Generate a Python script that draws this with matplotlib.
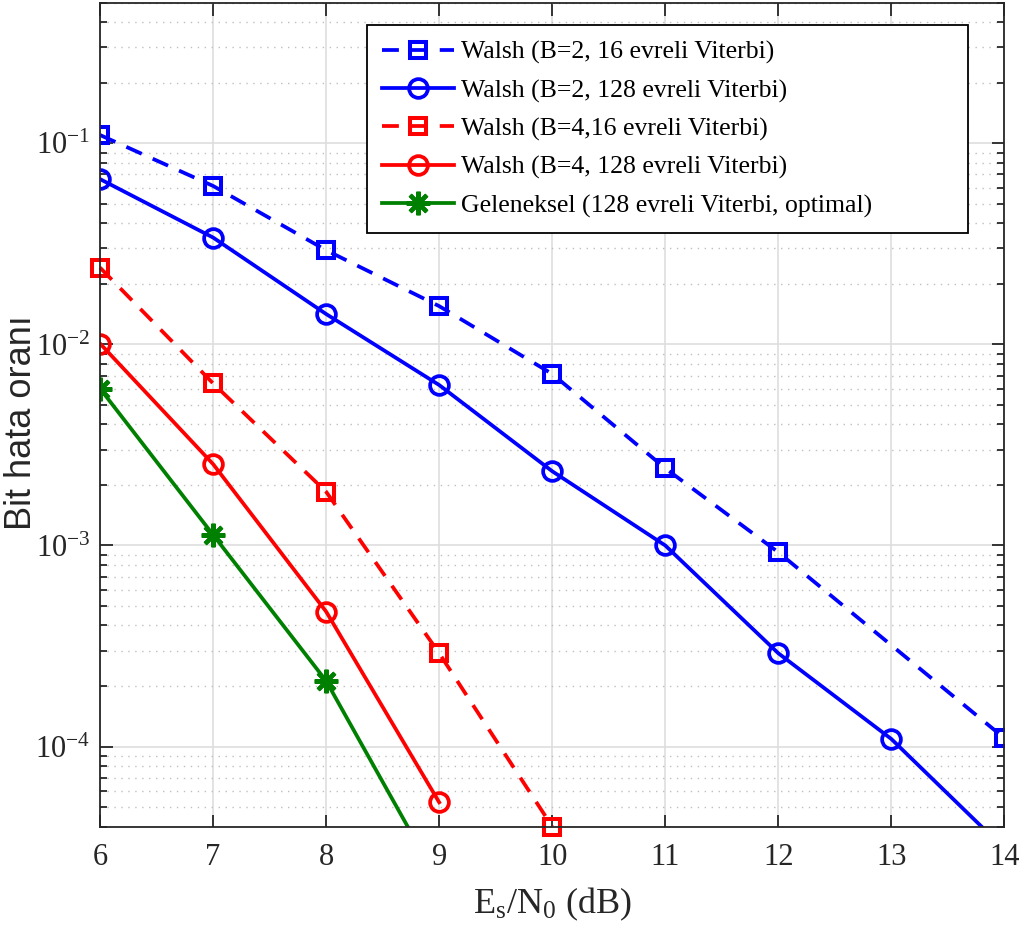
import numpy as np
import matplotlib
matplotlib.use("Agg")
import matplotlib.pyplot as plt
from matplotlib.ticker import LogLocator, LogFormatterMathtext, NullFormatter

plt.rcParams['font.family'] = ['Liberation Serif', 'DejaVu Serif']
plt.rcParams['mathtext.fontset'] = 'custom'
plt.rcParams['mathtext.rm'] = 'Liberation Serif'
plt.rcParams['mathtext.it'] = 'Liberation Serif:italic'

# Es/N0 (dB) and bit error rates
snr_b2_16 = [6, 7, 8, 9, 10, 11, 12, 14]
ber_b2_16 = [0.110, 0.0614, 0.0294, 0.0155, 0.00713, 0.00242, 0.000925, 0.000110]

snr_b2_128 = [6, 7, 8, 9, 10, 11, 12, 13, 14]
ber_b2_128 = [0.0664, 0.0340, 0.01416, 0.00628, 0.00234, 0.00100, 0.000291, 0.000109, 3.1e-5]

snr_b4_16 = [6, 7, 8, 9, 10]
ber_b4_16 = [0.0241, 0.00640, 0.00185, 0.000291, 4.0e-5]

snr_b4_128 = [6, 7, 8, 9]
ber_b4_128 = [0.0101, 0.00254, 0.000469, 5.28e-5]

snr_conv = [6, 7, 8, 9]
ber_conv = [0.00603, 0.00113, 0.000212, 2.1e-5]

labels = ["Walsh (B=2, 16 evreli Viterbi)",
          "Walsh (B=2, 128 evreli Viterbi)",
          "Walsh (B=4,16 evreli Viterbi)",
          "Walsh (B=4, 128 evreli Viterbi)",
          "Geleneksel (128 evreli Viterbi, optimal)"]

dark = (0.15, 0.15, 0.15)
green = (0, 0.5, 0)
asterisk = (8, 2, 0)

fig = plt.figure(figsize=(10.27, 9.35), dpi=100)
ax = fig.add_axes([0.0974, 0.116, 0.8806, 0.881])

lw = 2.7
sq = dict(ms=11, mew=2.9, mfc='none', dashes=(4.5, 3.2))
circ = dict(ms=13.5, mew=2.7, mfc='none')
ax.semilogy(snr_b2_16, ber_b2_16, '--s', color='blue', lw=lw, label=labels[0], **sq)
ax.semilogy(snr_b2_128, ber_b2_128, '-o', color='blue', lw=lw, label=labels[1], **circ)
ax.semilogy(snr_b4_16, ber_b4_16, '--s', color='red', lw=lw, label=labels[2],
            clip_on=False, **sq)
ax.semilogy(snr_b4_128, ber_b4_128, '-o', color='red', lw=lw, label=labels[3], **circ)
ax.semilogy(snr_conv, ber_conv, '-', marker=asterisk, color=green, lw=lw, ms=17,
            mew=3.0, label=labels[4])

ax.set_xlim(6, 14)
ax.set_ylim(4e-5, 0.5)
ax.set_xticks(np.arange(6, 15))

ax.yaxis.set_major_locator(LogLocator(base=10))
ax.yaxis.set_major_formatter(LogFormatterMathtext())
ax.yaxis.set_minor_locator(LogLocator(base=10, subs=np.arange(2, 10)))
ax.yaxis.set_minor_formatter(NullFormatter())

ax.grid(True, which='major', color=(0.87, 0.87, 0.87), lw=1.2, ls='-')
ax.grid(True, which='minor', axis='y', color=(0.75, 0.75, 0.75), lw=1.0, ls=(0, (1, 4)))
ax.set_axisbelow(True)

ax.tick_params(which='both', direction='in', top=True, right=True, colors=dark,
               labelcolor=dark, labelsize=22)
ax.tick_params(which='major', length=9, width=1.3)
ax.tick_params(which='minor', length=5, width=1.3)
ax.tick_params(axis='x', pad=12)
ax.tick_params(axis='y', pad=7)
for sp in ax.spines.values():
    sp.set_color(dark)
    sp.set_linewidth(1.3)

ax.set_xlabel(r'E$_\mathregular{s}$/N$_\mathregular{0}$ (dB)', fontsize=26, color=dark,
              labelpad=10)
ax.set_ylabel('Bit hata oranı', fontsize=26, color=dark, family='Liberation Sans')
ax.yaxis.set_label_coords(-0.068, 0.49)

leg = ax.legend(loc='upper left', bbox_to_anchor=(0.295, 0.7275, 0.6644, 0.245),
                mode='expand', fontsize=18.5, frameon=True, fancybox=False,
                edgecolor='black', framealpha=1, handlelength=2.8,
                handletextpad=0.25, labelspacing=0.58, borderpad=0.6,
                borderaxespad=0)
leg.get_frame().set_linewidth(1.3)

fig.savefig("out.png", dpi=100)
plt.close(fig)
